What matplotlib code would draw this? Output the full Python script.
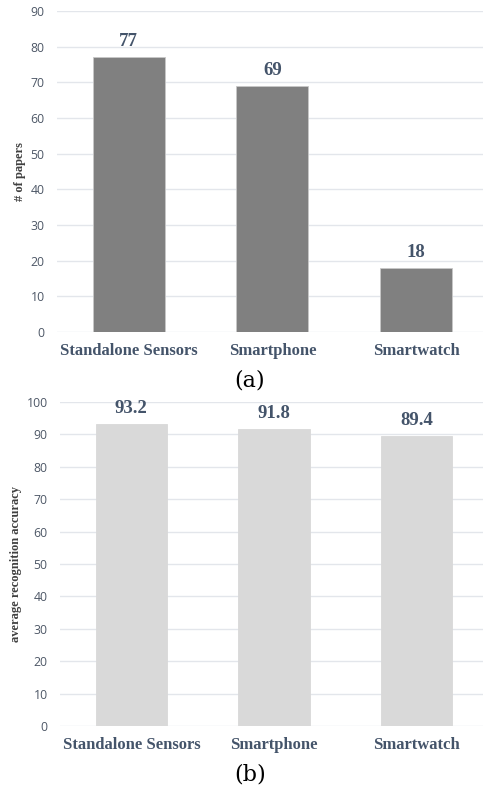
import matplotlib
matplotlib.use("Agg")
import matplotlib.pyplot as plt

categories = ["Standalone Sensors", "Smartphone", "Smartwatch"]
papers = [77, 69, 18]
accuracy = [93.2, 91.8, 89.4]
papers_ticks = [0, 10, 20, 30, 40, 50, 60, 70, 80, 90]
acc_ticks = [0, 10, 20, 30, 40, 50, 60, 70, 80, 90, 100]

W, H = 483, 795
fig = plt.figure(figsize=(W / 100, H / 100), dpi=100)

serif = ["Liberation Serif", "DejaVu Serif"]
tick_color = "#4D5766"
lab_color = "#44546A"
grid_color = "#E3E6EB"


def px_axes(left, right, top, bottom):
    return fig.add_axes([left / W, 1 - bottom / H, (right - left) / W, (bottom - top) / H])


def style(ax, values, ticks, ymax, color, edge, ylabel, fmt, xr):
    x = list(range(len(categories)))
    ax.bar(x, values, width=0.5, color=color, edgecolor=edge, linewidth=0.6, zorder=3)
    ax.set_xlim(-0.5, xr)
    ax.set_ylim(0, ymax)
    ax.set_yticks(ticks)
    ax.set_yticklabels([str(t) for t in ticks], fontsize=8.8, color=tick_color,
                       family=["Open Sans", "DejaVu Sans"])
    ax.yaxis.grid(True, color=grid_color, linewidth=1.0, zorder=0)
    ax.set_axisbelow(True)
    for s in ax.spines.values():
        s.set_visible(False)
    ax.tick_params(axis="y", length=0, pad=9)
    ax.tick_params(axis="x", length=0, pad=8)
    ax.set_xticks(x)
    ax.set_xticklabels(categories, fontsize=12, fontweight="bold", color=lab_color, family=serif)
    ax.set_ylabel(ylabel, fontsize=9, fontweight="bold", color="#404040", family=serif, labelpad=3)
    for xi, v in zip(x, values):
        ax.annotate(fmt.format(v), (xi, v), xytext=(0, 5), textcoords="offset points",
                    ha="center", va="bottom", fontsize=13.5, fontweight="bold",
                    color=lab_color, family=serif)


ax1 = px_axes(57, 483, 11, 332)
style(ax1, papers, papers_ticks, 90, "#808080", "#C8C8C8", "# of papers", "{:d}", 2.467)

ax2 = px_axes(60, 483, 402, 726)
style(ax2, accuracy, acc_ticks, 100, "#D9D9D9", "#D9D9D9", "average recognition accuracy", "{:.1f}", 2.465)

fig.text(250 / W, 1 - 381 / H, "(a)", ha="center", va="center", fontsize=16,
         family=["DejaVu Serif"], color="#000000")
fig.text(250 / W, 1 - 775 / H, "(b)", ha="center", va="center", fontsize=16,
         family=["DejaVu Serif"], color="#000000")

fig.savefig("out.png", dpi=100, facecolor="white")
